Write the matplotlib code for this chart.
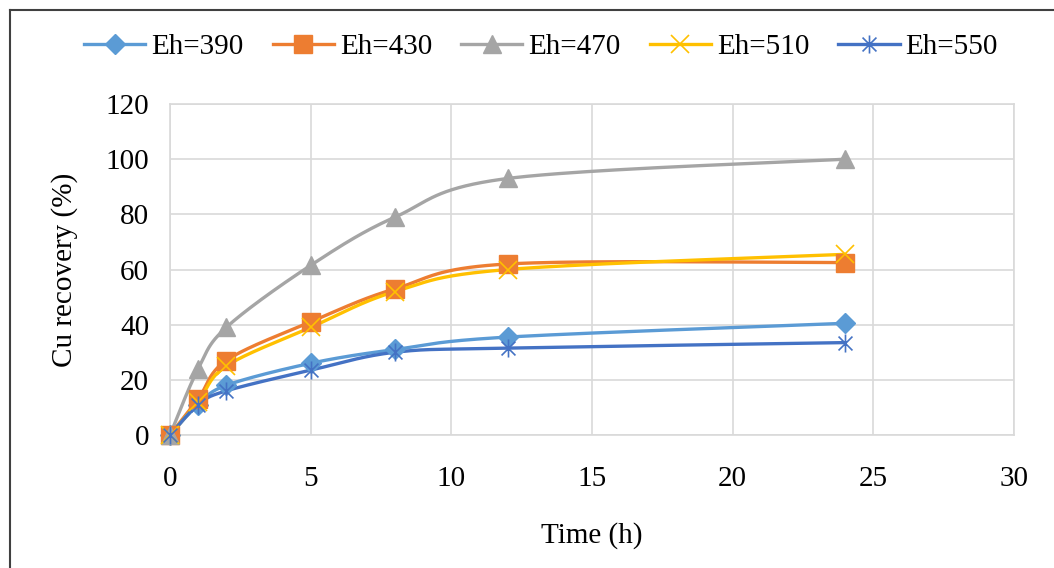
import numpy as np
import matplotlib
matplotlib.use("Agg")
import matplotlib.pyplot as plt
from matplotlib.path import Path
from matplotlib.lines import Line2D

# ---- data ----
time_h = [0, 1, 2, 5, 8, 12, 24]
labels = ["Eh=390", "Eh=430", "Eh=470", "Eh=510", "Eh=550"]
eh390 = [0, 11, 18, 26, 31, 35.5, 40.5]
eh430 = [0, 13, 27, 41, 53, 62, 62.5]
eh470 = [0, 24, 39, 61.5, 79, 93, 100]
eh510 = [0, 12, 25, 39, 52, 60, 65.5]
eh550 = [0, 11, 16, 23.5, 30, 31.5, 33.5]
x_ticks = [0, 5, 10, 15, 20, 25, 30]
y_ticks = [0, 20, 40, 60, 80, 100, 120]

series = [eh390, eh430, eh470, eh510, eh550]
colors = ["#5B9BD5", "#ED7D31", "#A5A5A5", "#FFC000", "#4472C4"]

# asterisk marker (x plus vertical bar)
ast = Path([(-1, -1), (1, 1), (-1, 1), (1, -1), (0, -1.3), (0, 1.3)],
           [Path.MOVETO, Path.LINETO, Path.MOVETO, Path.LINETO, Path.MOVETO, Path.LINETO])

markers = [
    dict(marker="D", markersize=10.5, markeredgewidth=1),
    dict(marker="s", markersize=12.5, markeredgewidth=1),
    dict(marker="^", markersize=13.5, markeredgewidth=1),
    dict(marker="x", markersize=13, markeredgewidth=1.2),
    dict(marker=ast, markersize=13, markeredgewidth=1.2),
]

plt.rcParams["font.family"] = ["Liberation Serif", "DejaVu Serif"]
plt.rcParams["font.size"] = 21


def smooth(xs, ys, n=40):
    """Catmull-Rom style Bezier smoothing (like Excel's smoothed line)."""
    P = np.column_stack([xs, ys]).astype(float)
    out = [P[0]]
    m = len(P)
    for i in range(m - 1):
        p0 = P[i - 1] if i > 0 else P[i]
        p1 = P[i]
        p2 = P[i + 1]
        p3 = P[i + 2] if i + 2 < m else P[i + 1]
        c1 = p1 + (p2 - p0) / 6.0
        c2 = p2 - (p3 - p1) / 6.0
        t = np.linspace(0, 1, n)[1:, None]
        b = ((1 - t) ** 3) * p1 + 3 * ((1 - t) ** 2) * t * c1 + 3 * (1 - t) * t ** 2 * c2 + t ** 3 * p2
        out.extend(b)
    out = np.array(out)
    return out[:, 0], out[:, 1]


fig = plt.figure(figsize=(10.54, 5.68), dpi=100)
W, H = 1054, 568
ax = fig.add_axes([170 / W, (H - 435) / H, 844 / W, 331 / H])

handles = []
for ys, c, lab, mk in zip(series, colors, labels, markers):
    sx, sy = smooth(time_h, ys)
    ax.plot(sx, sy, color=c, lw=2.4, solid_capstyle="round", zorder=3)
    ax.plot(time_h, ys, linestyle="none", color=c, markerfacecolor=c,
            markeredgecolor=c, zorder=4, clip_on=False, **mk)
    handles.append(Line2D([], [], color=c, lw=2.4, markerfacecolor=c,
                          markeredgecolor=c, label=lab, **mk))

ax.set_xlim(0, 30)
ax.set_ylim(0, 120)
ax.set_xticks(x_ticks)
ax.set_yticks(y_ticks)
ax.grid(True, color="#D9D9D9", lw=1.2, zorder=0)
ax.set_axisbelow(True)
for s in ax.spines.values():
    s.set_color("#D9D9D9")
    s.set_linewidth(1.2)
ax.tick_params(length=0, colors="black")
ax.tick_params(axis="x", pad=22)
ax.tick_params(axis="y", pad=15)
ax.set_xlabel("Time (h)", labelpad=22)
ax.set_ylabel("Cu recovery (%)", labelpad=20)

fig.legend(handles=handles, loc="center", bbox_to_anchor=(541 / W, 1 - 47 / H),
           ncol=5, frameon=False, numpoints=1, handlelength=2.1,
           handletextpad=0.2, columnspacing=1.0, borderaxespad=0)

# figure border (left and top edges visible)
fig.add_artist(plt.Line2D([10 / W, 10 / W], [0, 1 - 10 / H], color="#404040", lw=1.5,
                          transform=fig.transFigure))
fig.add_artist(plt.Line2D([10 / W, 1], [1 - 10 / H, 1 - 10 / H], color="#404040", lw=1.5,
                          transform=fig.transFigure))

fig.savefig("out.png", dpi=100, facecolor="white")
